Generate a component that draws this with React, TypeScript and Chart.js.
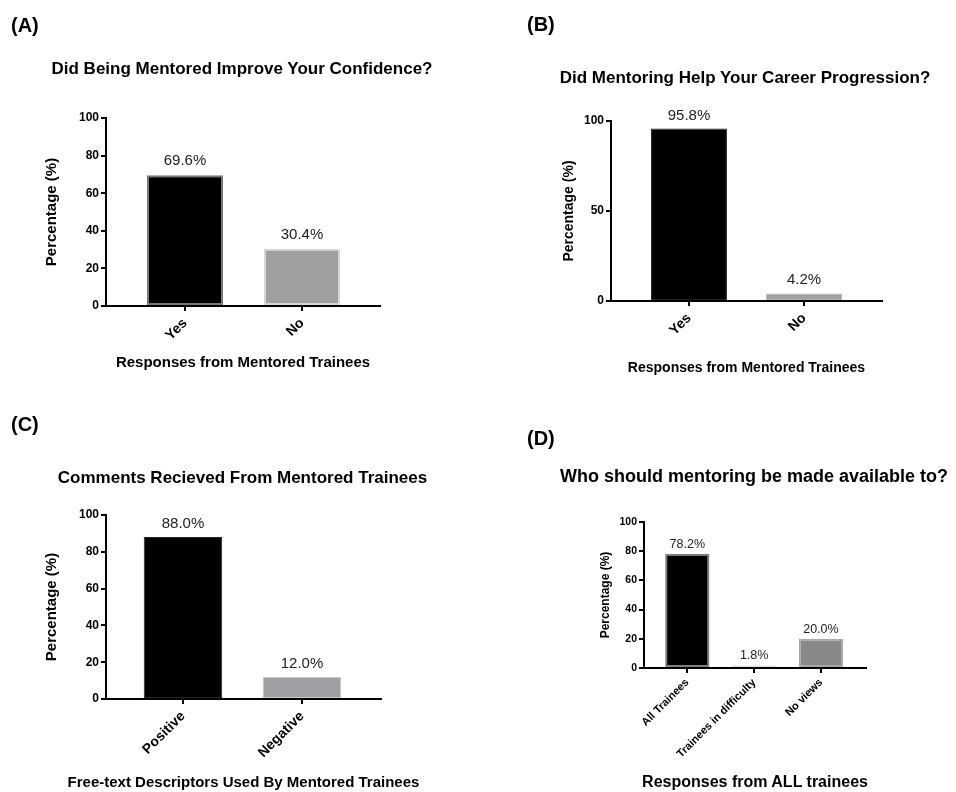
import React, { useEffect, useRef } from 'react';
import { Chart, registerables } from 'chart.js';

Chart.register(...registerables);

const FONT = "'Liberation Sans', Arial, Helvetica, sans-serif";

// ---------- DATA ----------
const panelLetters = ['(A)', '(B)', '(C)', '(D)'];

const titleA = 'Did Being Mentored Improve Your Confidence?';
const categoriesA = ['Yes', 'No'];
const valuesA = [69.6, 30.4];
const yTicksA = [0, 20, 40, 60, 80, 100];
const xTitleA = 'Responses from Mentored Trainees';

const titleB = 'Did Mentoring Help Your Career Progression?';
const categoriesB = ['Yes', 'No'];
const valuesB = [95.8, 4.2];
const yTicksB = [0, 50, 100];
const xTitleB = 'Responses from Mentored Trainees';

const titleC = 'Comments Recieved From Mentored Trainees';
const categoriesC = ['Positive', 'Negative'];
const valuesC = [88.0, 12.0];
const yTicksC = [0, 20, 40, 60, 80, 100];
const xTitleC = 'Free-text Descriptors Used By Mentored Trainees';

const titleD = 'Who should mentoring be made available to?';
const categoriesD = ['All Trainees', 'Trainees in difficulty', 'No views'];
const valuesD = [78.2, 1.8, 20.0];
const yTicksD = [0, 20, 40, 60, 80, 100];
const xTitleD = 'Responses from ALL trainees';

const yTitle = 'Percentage (%)';

// ---------- STYLE / LAYOUT ----------
type Panel = {
  categories: string[];
  values: number[];
  yTicks: number[];
  rect: [number, number, number, number];
  area: { left: number; right: number; top: number; bottom: number };
  xmin: number;
  xmax: number;
  barFrac: number;
  fills: string[];
  borders: string[];
  borderWidths: number[];
  yTickSize: number;
  xTickSize: number;
  yTitleSize: number;
  yTitleX: number;
  labelSize: number;
  labelGap: number;
  xTickPad: number;
};

const panels: Panel[] = [
  {
    categories: categoriesA, values: valuesA, yTicks: yTicksA,
    rect: [0, 0, 478, 396],
    area: { left: 106, right: 380, top: 118, bottom: 306 },
    xmin: -0.675, xmax: 1.667, barFrac: 0.65,
    fills: ['#000000', '#a0a0a3'], borders: ['#777777', '#d6d6d6'], borderWidths: [2, 2],
    yTickSize: 12, xTickSize: 14, yTitleSize: 15, yTitleX: 52,
    labelSize: 15, labelGap: 10, xTickPad: 4,
  },
  {
    categories: categoriesB, values: valuesB, yTicks: yTicksB,
    rect: [478, 0, 478, 396],
    area: { left: 611, right: 882, top: 121, bottom: 301 },
    xmin: -0.678, xmax: 1.678, barFrac: 0.66,
    fills: ['#000000', '#a0a0a0'], borders: ['#222222', '#b4b4b4'], borderWidths: [1, 1],
    yTickSize: 12, xTickSize: 14, yTitleSize: 14, yTitleX: 569,
    labelSize: 15, labelGap: 9, xTickPad: 4,
  },
  {
    categories: categoriesC, values: valuesC, yTicks: yTicksC,
    rect: [0, 396, 478, 396],
    area: { left: 106, right: 381, top: 515, bottom: 699 },
    xmin: -0.647, xmax: 1.664, barFrac: 0.66,
    fills: ['#000000', '#a0a0a4'], borders: ['#222222', '#c8c8c8'], borderWidths: [1, 1],
    yTickSize: 12, xTickSize: 14, yTitleSize: 15, yTitleX: 52,
    labelSize: 15, labelGap: 9, xTickPad: 4,
  },
  {
    categories: categoriesD, values: valuesD, yTicks: yTicksD,
    rect: [478, 396, 478, 396],
    area: { left: 644, right: 866, top: 522, bottom: 668 },
    xmin: -0.648, xmax: 2.674, barFrac: 0.663,
    fills: ['#000000', '#d6d6d6', '#888888'], borders: ['#808080', '#e2e2e2', '#a8a8a8'], borderWidths: [2, 1, 2],
    yTickSize: 10.5, xTickSize: 11, yTitleSize: 12, yTitleX: 605.5,
    labelSize: 12.5, labelGap: 6, xTickPad: 3,
  },
];

const titles = [
  { text: titleA, cx: 242, cy: 68, size: 17 },
  { text: titleB, cx: 745, cy: 77, size: 17 },
  { text: titleC, cx: 242.5, cy: 477.5, size: 17 },
  { text: titleD, cx: 754, cy: 475.5, size: 18 },
];

const xTitles = [
  { text: xTitleA, cx: 243, cy: 361, size: 15 },
  { text: xTitleB, cx: 746.5, cy: 366.5, size: 14 },
  { text: xTitleC, cx: 243.5, cy: 781, size: 15 },
  { text: xTitleD, cx: 755, cy: 782.3, size: 16 },
];

const letterPos = [
  { x: 11, cy: 25 },
  { x: 527, cy: 24 },
  { x: 11, cy: 424 },
  { x: 527, cy: 438 },
];

const valueLabels = {
  id: 'valueLabels',
  afterDatasetsDraw(chart: any, _args: any, opts: any) {
    const ctx = chart.ctx;
    const meta = chart.getDatasetMeta(0);
    const ds = chart.data.datasets[0];
    ctx.save();
    ctx.font = `${opts.size}px ${FONT}`;
    ctx.fillStyle = '#222222';
    ctx.textAlign = 'center';
    ctx.textBaseline = 'alphabetic';
    meta.data.forEach((el: any, i: number) => {
      const v = ds.data[i].y as number;
      ctx.fillText(v.toFixed(1) + '%', el.x, el.y - opts.gap);
    });
    ctx.restore();
  },
};

function BarPanel({ p }: { p: Panel }) {
  const ref = useRef<HTMLCanvasElement>(null);
  const [cl, ct, cw, ch] = p.rect;
  useEffect(() => {
    if (!ref.current) return;
    const a = p.area;
    const yAxisW = a.left - cl;
    const xAxisH = ct + ch - a.bottom;
    const yTitleLH = p.yTitleSize * 1.2;
    const chart = new Chart(ref.current, {
      type: 'bar',
      data: {
        datasets: [
          {
            data: p.values.map((v, i) => ({ x: i, y: v })),
            backgroundColor: p.fills,
            borderColor: p.borders,
            borderWidth: p.borderWidths,
            borderSkipped: false,
            barPercentage: p.barFrac,
            categoryPercentage: 1,
          } as any,
        ],
      },
      options: {
        responsive: false,
        animation: false,
        events: [],
        layout: {
          padding: { left: 0, top: a.top - ct, right: cl + cw - a.right, bottom: 0 },
        },
        plugins: {
          legend: { display: false },
          tooltip: { enabled: false },
          title: { display: false },
          valueLabels: { size: p.labelSize, gap: p.labelGap },
        } as any,
        scales: {
          x: {
            type: 'linear',
            min: p.xmin,
            max: p.xmax,
            offset: false,
            afterBuildTicks: (s: any) => {
              s.ticks = p.categories.map((_, i) => ({ value: i }));
            },
            afterFit: (s: any) => {
              s.height = xAxisH;
            },
            ticks: {
              autoSkip: false,
              minRotation: 45,
              maxRotation: 45,
              padding: p.xTickPad,
              color: '#000',
              font: { family: FONT, size: p.xTickSize, weight: 'bold' },
              callback: (v: any) => p.categories[Math.round(Number(v))] ?? '',
            },
            grid: {
              offset: false,
              drawOnChartArea: false,
              drawTicks: true,
              tickLength: 5,
              color: '#000',
              lineWidth: 2,
            },
            border: { display: true, color: '#000', width: 2 },
            title: { display: false },
          },
          y: {
            min: 0,
            max: 100,
            afterBuildTicks: (s: any) => {
              s.ticks = p.yTicks.map((v) => ({ value: v }));
            },
            afterFit: (s: any) => {
              s.width = yAxisW;
            },
            ticks: {
              padding: 2,
              color: '#000',
              font: { family: FONT, size: p.yTickSize, weight: 'bold' },
            },
            grid: {
              offset: false,
              drawOnChartArea: false,
              drawTicks: true,
              tickLength: 5,
              color: '#000',
              lineWidth: 2,
            },
            border: { display: true, color: '#000', width: 2 },
            title: {
              display: true,
              text: yTitle,
              color: '#000',
              font: { family: FONT, size: p.yTitleSize, weight: 'bold' },
              padding: { top: p.yTitleX - cl - yTitleLH / 2, bottom: 0 },
            },
          },
        } as any,
      },
      plugins: [valueLabels],
    });
    return () => chart.destroy();
  }, []);
  return (
    <canvas
      ref={ref}
      width={cw}
      height={ch}
      style={{ position: 'absolute', left: cl, top: ct, width: cw, height: ch }}
    />
  );
}

function TextLabel({ t }: { t: { text: string; cx: number; cy: number; size: number } }) {
  return (
    <div
      style={{
        position: 'absolute',
        left: t.cx - 300,
        top: t.cy - t.size / 2,
        width: 600,
        textAlign: 'center',
        fontSize: t.size,
        lineHeight: t.size + 'px',
        fontWeight: 'bold',
        whiteSpace: 'nowrap',
      }}
    >
      {t.text}
    </div>
  );
}

export default function App() {
  return (
    <div
      style={{
        position: 'absolute',
        left: 0,
        top: 0,
        width: 956,
        height: 792,
        background: '#ffffff',
        fontFamily: FONT,
        color: '#000',
        overflow: 'hidden',
      }}
    >
      {panels.map((p, i) => (
        <BarPanel key={i} p={p} />
      ))}
      {titles.map((t, i) => (
        <TextLabel key={'t' + i} t={t} />
      ))}
      {xTitles.map((t, i) => (
        <TextLabel key={'x' + i} t={t} />
      ))}
      {panelLetters.map((l, i) => (
        <div
          key={'l' + i}
          style={{
            position: 'absolute',
            left: letterPos[i].x,
            top: letterPos[i].cy - 10,
            fontSize: 20,
            lineHeight: '20px',
            fontWeight: 'bold',
            whiteSpace: 'nowrap',
          }}
        >
          {l}
        </div>
      ))}
    </div>
  );
}
